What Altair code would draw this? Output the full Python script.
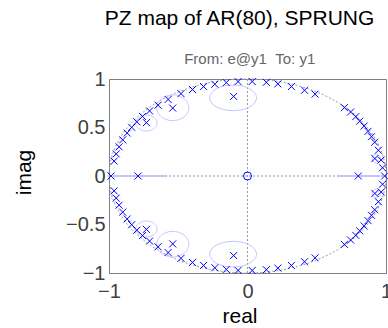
import altair as alt
import pandas as pd
import numpy as np

# ---- data ----
# complex poles in the upper half plane (their conjugates are in the lower half)
up_re = [-0.963, -0.948, -0.927, -0.901, -0.869, -0.836, -0.799, -0.758, -0.707, -0.646,
         -0.573, -0.480, -0.397, -0.317, -0.236, -0.153, -0.068,
         0.034, 0.136, 0.219, 0.317, 0.412, 0.488, 0.700, 0.745, 0.782, 0.810, 0.842,
         0.870, 0.895, 0.918, 0.945, 0.965, 0.975,
         -0.73, -0.54, -0.10, 0.92]
up_im = [0.153, 0.228, 0.301, 0.373, 0.443, 0.502, 0.559, 0.614, 0.671, 0.730,
         0.789, 0.849, 0.891, 0.922, 0.946, 0.963, 0.973,
         0.974, 0.966, 0.950, 0.922, 0.884, 0.844, 0.705, 0.660, 0.612, 0.565, 0.515,
         0.460, 0.405, 0.348, 0.265, 0.165, 0.085,
         0.55, 0.70, 0.82, 0.18]
real_poles = [-0.985, -0.79, 0.80, 0.99]
zero_re = [0.0]
zero_im = [0.0]

# confidence regions (ellipses around some complex poles, intervals for real poles)
ell_cx = [-0.73, -0.54, -0.104, 0.93]
ell_cy = [0.546, 0.703, 0.806, 0.18]
ell_ax = [0.078, 0.116, 0.169, 0.03]
ell_ay = [0.082, 0.132, 0.132, 0.045]
ci_lo = [-0.97, 0.65]
ci_hi = [-0.58, 0.96]

# ---- tables ----
poles = pd.DataFrame({
    "re": up_re + up_re + real_poles,
    "im": up_im + [-v for v in up_im] + [0.0] * len(real_poles),
})
zeros = pd.DataFrame({"re": zero_re, "im": zero_im})

t = np.linspace(0, 2 * np.pi, 73)
rows = []
for i in range(len(ell_cx)):
    for s in (1, -1):
        for k, tt in enumerate(t):
            rows.append({"re": ell_cx[i] + ell_ax[i] * np.cos(tt),
                         "im": s * ell_cy[i] + ell_ay[i] * np.sin(tt),
                         "id": f"{i}_{s}", "k": k})
ellipses = pd.DataFrame(rows)

tc = np.linspace(0, 2 * np.pi, 241)
circle = pd.DataFrame({"re": np.cos(tc), "im": np.sin(tc), "k": range(len(tc))})
cis = pd.DataFrame({"re": ci_lo, "re2": ci_hi, "im": [0.0] * len(ci_lo)})

FONT = "Liberation Sans"
xs = alt.Scale(domain=[-1, 1], nice=False, zero=False)
ys = alt.Scale(domain=[-1, 1], nice=False, zero=False)
X = alt.X("re:Q", scale=xs, title="real",
          axis=alt.Axis(values=[-1, 0, 1], format="~g", labelFlush=False, labelOverlap=False,
                        ticks=False, grid=False, labelPadding=8, titlePadding=4,
                        titleX=130.5))
Y = alt.Y("im:Q", scale=ys, title="imag",
          axis=alt.Axis(values=[-1, -0.5, 0, 0.5, 1], format="~g", labelFlush=False,
                        labelOverlap=False, ticks=False, grid=False, labelPadding=4,
                        titlePadding=31, titleY=93))

dash = [2, 2]
circ = alt.Chart(circle).mark_line(color="#999999", strokeWidth=1, strokeDash=dash).encode(
    x=X, y=Y, order="k:Q")
hline = alt.Chart(zeros).mark_rule(color="#999999", strokeWidth=1, strokeDash=dash).encode(
    x=alt.datum(-1), x2=alt.datum(1), y=alt.datum(0))
vline = alt.Chart(zeros).mark_rule(color="#999999", strokeWidth=1, strokeDash=dash).encode(
    y=alt.datum(-1), y2=alt.datum(1), x=alt.datum(0))
ci = alt.Chart(cis).mark_rule(color="#b8b8ff", strokeWidth=1.5).encode(
    x="re:Q", x2="re2:Q", y="im:Q")
ell = alt.Chart(ellipses).mark_line(color="#c4c4ff", strokeWidth=1).encode(
    x=X, y=Y, detail="id:N", order="k:Q")
pts = alt.Chart(poles).mark_point(
    shape="M-1,-1L1,1M-1,1L1,-1", size=49, filled=False, color="#0000ff", strokeWidth=1,
    opacity=1).encode(x=X, y=Y)
zer = alt.Chart(zeros).mark_point(shape="circle", size=64, filled=False, color="#0000ff",
                                  strokeWidth=1, opacity=1).encode(x=X, y=Y)
sub = alt.Chart(zeros).mark_text(font=FONT, fontSize=15, color="#666666", baseline="alphabetic",
                                 align="center").encode(
    x=alt.value(140.7), y=alt.value(-15), text=alt.value("From: e@y1 \u00a0To: y1"))

chart = alt.layer(circ, hline, vline, ci, ell, pts, zer, sub).properties(
    width=277, height=194,
    title=alt.TitleParams("PZ map of AR(80), SPRUNG", font=FONT, fontSize=21,
                          fontWeight="normal", color="#000000", anchor="middle", dx=-8,
                          offset=23),
    autosize=alt.AutoSizeParams(type="none"),
    padding={"left": 109, "top": 79, "right": 2, "bottom": 55},
).configure_axis(
    labelFont=FONT, titleFont=FONT, labelFontSize=20, titleFontSize=21,
    labelColor="#404040", titleColor="#000000", titleFontWeight="normal",
    domainColor="#808080",
).configure_view(stroke="#808080", strokeWidth=1)

chart.save("out.html", embed_options={"renderer": "svg", "actions": False})
